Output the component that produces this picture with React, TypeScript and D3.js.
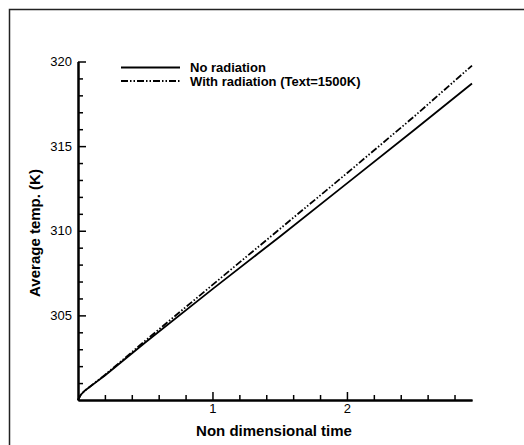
import React, { useEffect, useRef } from 'react';
import * as d3 from 'd3';

// non dimensional time samples
const times = [0, 0.02, 0.05, 0.1, 0.2, 0.3, 0.5, 1.0, 1.5, 2.0, 2.5, 2.93];
// average temperature (K), no radiation
const noRadiation = [300, 300.3, 300.55, 300.85, 301.45, 302.1, 303.4, 306.55, 309.65, 312.8, 315.95, 318.7];
// average temperature (K), with radiation (Text=1500K)
const withRadiation = [300, 300.3, 300.55, 300.86, 301.48, 302.15, 303.5, 306.8, 310.1, 313.4, 316.75, 319.76];

const xMajorTicks = [1, 2];
const xMinorTicks = [0.2, 0.4, 0.6, 0.8, 1.2, 1.4, 1.6, 1.8, 2.2, 2.4, 2.6, 2.8];
const yMajorTicks = [305, 310, 315, 320];
const yMinorTicks = [301, 302, 303, 304, 306, 307, 308, 309, 311, 312, 313, 314, 316, 317, 318, 319];

const legendItems = [
  { label: 'No radiation', dash: null },
  { label: 'With radiation (Text=1500K)', dash: '7 2 1.5 2 1.5 2' },
];

const W = 524;
const H = 445;
const FONT = '"Liberation Sans", Arial, sans-serif';

const App = () => {
  const ref = useRef<SVGSVGElement>(null);

  useEffect(() => {
    const svg = d3.select(ref.current);
    svg.selectAll('*').remove();

    // outer frame, runs off the right and bottom edges
    svg.append('path')
      .attr('d', `M9.5,${H + 5}V9.5H${W + 5}`)
      .attr('fill', 'none')
      .attr('stroke', '#222')
      .attr('stroke-width', 1.5);

    const x = d3.scaleLinear().domain([0, 2.93]).range([78, 472]);
    const y = d3.scaleLinear().domain([300, 320]).range([400, 61.5]);

    // x axis
    const xg = svg.append('g').attr('transform', `translate(0,${y(300)})`);
    xg.call(d3.axisBottom(x).tickValues(xMinorTicks).tickSize(-5).tickSizeOuter(0).tickFormat(() => ''));
    xg.append('g').call(d3.axisBottom(x).tickValues(xMajorTicks).tickSize(-8).tickSizeOuter(0).tickPadding(4).tickFormat(d3.format('d')));
    xg.selectAll('path.domain').attr('stroke-width', 2);
    xg.selectAll('line').attr('stroke-width', 1.5);
    xg.selectAll('text').attr('font-size', 13).attr('font-family', FONT).attr('fill', '#000');

    // y axis
    const yg = svg.append('g').attr('transform', `translate(${x(0)},0)`);
    yg.call(d3.axisLeft(y).tickValues(yMinorTicks).tickSize(-5).tickSizeOuter(0).tickFormat(() => ''));
    yg.append('g').call(d3.axisLeft(y).tickValues(yMajorTicks).tickSize(-8).tickSizeOuter(0).tickPadding(6).tickFormat(d3.format('d')));
    yg.selectAll('path.domain').attr('stroke-width', 2);
    yg.selectAll('line').attr('stroke-width', 1.5);
    yg.selectAll('text').attr('font-size', 13).attr('font-family', FONT).attr('fill', '#000');

    // axis titles
    svg.append('text')
      .attr('x', 274)
      .attr('y', 436)
      .attr('text-anchor', 'middle')
      .attr('font-family', FONT)
      .attr('font-weight', 'bold')
      .attr('font-size', 15)
      .text('Non dimensional time');

    svg.append('text')
      .attr('transform', 'translate(40,233) rotate(-90)')
      .attr('text-anchor', 'middle')
      .attr('font-family', FONT)
      .attr('font-weight', 'bold')
      .attr('font-size', 15)
      .text('Average temp. (K)');

    // lines
    const line = d3.line<number>()
      .x((_, i) => x(times[i]))
      .y(d => y(d));

    svg.append('path')
      .datum(noRadiation)
      .attr('d', line)
      .attr('fill', 'none')
      .attr('stroke', '#000')
      .attr('stroke-width', 1.8);

    svg.append('path')
      .datum(withRadiation)
      .attr('d', line)
      .attr('fill', 'none')
      .attr('stroke', '#000')
      .attr('stroke-width', 1.8)
      .attr('stroke-dasharray', legendItems[1].dash);

    // legend
    const legend = svg.append('g');
    legendItems.forEach((item, i) => {
      const ly = 67.5 + i * 13.5;
      legend.append('line')
        .attr('x1', 121)
        .attr('x2', 180)
        .attr('y1', ly)
        .attr('y2', ly)
        .attr('stroke', '#000')
        .attr('stroke-width', 1.8)
        .attr('stroke-dasharray', item.dash);
      legend.append('text')
        .attr('x', 190)
        .attr('y', ly + 4.5)
        .attr('font-family', FONT)
        .attr('font-weight', 'bold')
        .attr('font-size', 13)
        .text(item.label);
    });
  }, []);

  return (
    <svg
      ref={ref}
      width={W}
      height={H}
      style={{ position: 'absolute', left: 0, top: 0, background: '#fff' }}
    />
  );
};

export default App;
